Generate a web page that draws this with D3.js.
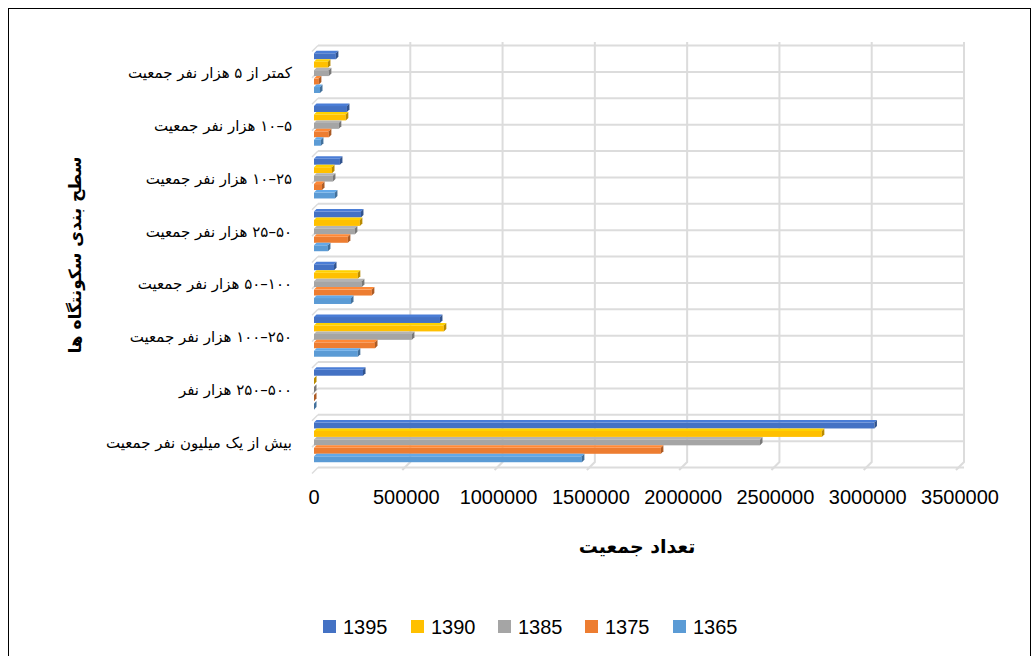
<!DOCTYPE html>
<html><head><meta charset="utf-8">
<script src="https://cdn.jsdelivr.net/npm/d3@7"></script>
<style>body{margin:0;background:#fff}svg{display:block}</style>
</head><body>
<svg id="c" width="1035" height="656"></svg>
<script>
const categories = [
  "کمتر از ۵ هزار نفر جمعیت",
  "۵–۱۰ هزار نفر جمعیت",
  "۲۵–۱۰ هزار نفر جمعیت",
  "۵۰–۲۵ هزار نفر جمعیت",
  "۱۰۰–۵۰ هزار نفر جمعیت",
  "۲۵۰–۱۰۰ هزار نفر جمعیت",
  "۵۰۰–۲۵۰ هزار نفر",
  "بیش از یک میلیون نفر جمعیت"
];
const seriesNames = ["1395", "1390", "1385", "1375", "1365"];
const v1395 = [132000, 192000, 154000, 268000, 122000, 696000, 279000, 3050000];
const v1390 = [ 89000, 186000, 111000, 262000, 251000, 717000,  10000, 2765000];
const v1385 = [ 94000, 148000, 116000, 235000, 273000, 544000,   5000, 2430000];
const v1375 = [ 40000,  94000,  57000, 197000, 327000, 344000,  10000, 1893000];
const v1365 = [ 46000,  51000, 127000,  89000, 214000, 251000,   8000, 1465000];
const seriesValues = [v1395, v1390, v1385, v1375, v1365];
const xTicks = [0, 500000, 1000000, 1500000, 2000000, 2500000, 3000000, 3500000];
const xTitle = "تعداد جمعیت";
const yTitle = "سطح بندی سکونتگاه ها";
const colors = ["#4472C4", "#FFC000", "#A5A5A5", "#ED7D31", "#5B9BD5"];

const svg = d3.select("#c");
svg.append("rect").attr("x", 8.5).attr("y", 8.5).attr("width", 1022).attr("height", 660)
  .attr("fill", "none").attr("stroke", "#000").attr("stroke-width", 1);

const x = d3.scaleLinear().domain([0, 3500000]).range([314, 960]);
const y = d3.scaleBand().domain(categories).range([45.5, 467.5]).paddingInner(0.2).paddingOuter(0.1);
const ys = d3.scaleBand().domain(seriesNames).range([0, y.bandwidth()]);

const grid = svg.append("g");
const step = y.step();
const y0 = 45.5;
d3.range(0, 17).forEach(i => {
  const yy = y0 + i * step / 2;
  grid.append("line").attr("x1", x(0) + 4).attr("x2", x(3500000) + 4)
    .attr("y1", yy).attr("y2", yy).attr("stroke", "#dcdcdc").attr("stroke-width", 2);
});
xTicks.forEach(t => {
  if (t === 0) return;
  const xb = x(t) + 4;
  grid.append("path").attr("d", `M${xb},42 L${xb},462 L${xb - 8},470`)
    .attr("fill", "none").attr("stroke", "#dcdcdc").attr("stroke-width", 2);
});
d3.range(0, 17).forEach(i => {
  const yy = y0 + i * step / 2;
  grid.append("line").attr("x1", x(0) + 4).attr("x2", x(0) - 2).attr("y1", yy).attr("y2", yy + 6)
    .attr("stroke", "#dcdcdc").attr("stroke-width", 1.5);
});

const bars = svg.append("g");
seriesNames.forEach((s, si) => {
  const col = d3.color(colors[si]);
  const dark = col.darker(0.9).formatHex();
  const light = col.brighter(0.25).formatHex();
  categories.forEach((c, ci) => {
    const v = seriesValues[si][ci];
    const yt = y(c) + ys(s);
    const h = ys.bandwidth();
    const x0 = x(0), x1 = Math.max(x(v), x0 + 2.5);
    const d = 2.5;
    bars.append("rect").attr("x", x0).attr("y", yt + d).attr("width", Math.max(0.5, x1 - d - x0)).attr("height", h - d)
      .attr("fill", colors[si]);
    bars.append("path").attr("d", `M${x0},${yt + d} L${x0 + d},${yt} L${x1},${yt} L${x1 - d},${yt + d} Z`)
      .attr("fill", light);
    bars.append("path").attr("d", `M${x1 - d},${yt + d} L${x1},${yt} L${x1},${yt + h - d} L${x1 - d},${yt + h} Z`)
      .attr("fill", dark);
  });
});

const labels = svg.append("g");
categories.forEach(c => {
  labels.append("text").attr("x", 292).attr("y", y(c) + y.bandwidth() / 2 + 2)
    .attr("direction", "rtl").attr("text-anchor", "start").attr("dominant-baseline", "middle")
    .attr("font-family", "DejaVu Sans, sans-serif").attr("font-size", 15).attr("fill", "#000")
    .text(c);
});

const tl = svg.append("g");
xTicks.forEach(t => {
  tl.append("text").attr("x", x(t)).attr("y", 504).attr("text-anchor", "middle")
    .attr("font-family", "Liberation Sans, Arial, sans-serif").attr("font-size", 20).attr("fill", "#000")
    .text(t);
});

svg.append("text").attr("x", 637).attr("y", 553).attr("text-anchor", "middle").attr("direction", "rtl")
  .attr("font-family", "DejaVu Sans, sans-serif").attr("font-weight", "bold").attr("font-size", 19)
  .text(xTitle);
svg.append("text").attr("transform", "translate(76,255) rotate(-90)").attr("text-anchor", "middle").attr("direction", "rtl")
  .attr("dominant-baseline", "middle")
  .attr("font-family", "DejaVu Sans, sans-serif").attr("font-weight", "bold").attr("font-size", 17)
  .text(yTitle);

const legX = [323, 411, 498, 585, 673];
const lg = svg.append("g");
seriesNames.forEach((s, i) => {
  lg.append("rect").attr("x", legX[i]).attr("y", 620).attr("width", 13).attr("height", 13).attr("fill", colors[i]);
  lg.append("text").attr("x", legX[i] + 20).attr("y", 634).attr("font-family", "Liberation Sans, Arial, sans-serif")
    .attr("font-size", 20).attr("fill", "#000").text(s);
});
</script>
</body></html>
